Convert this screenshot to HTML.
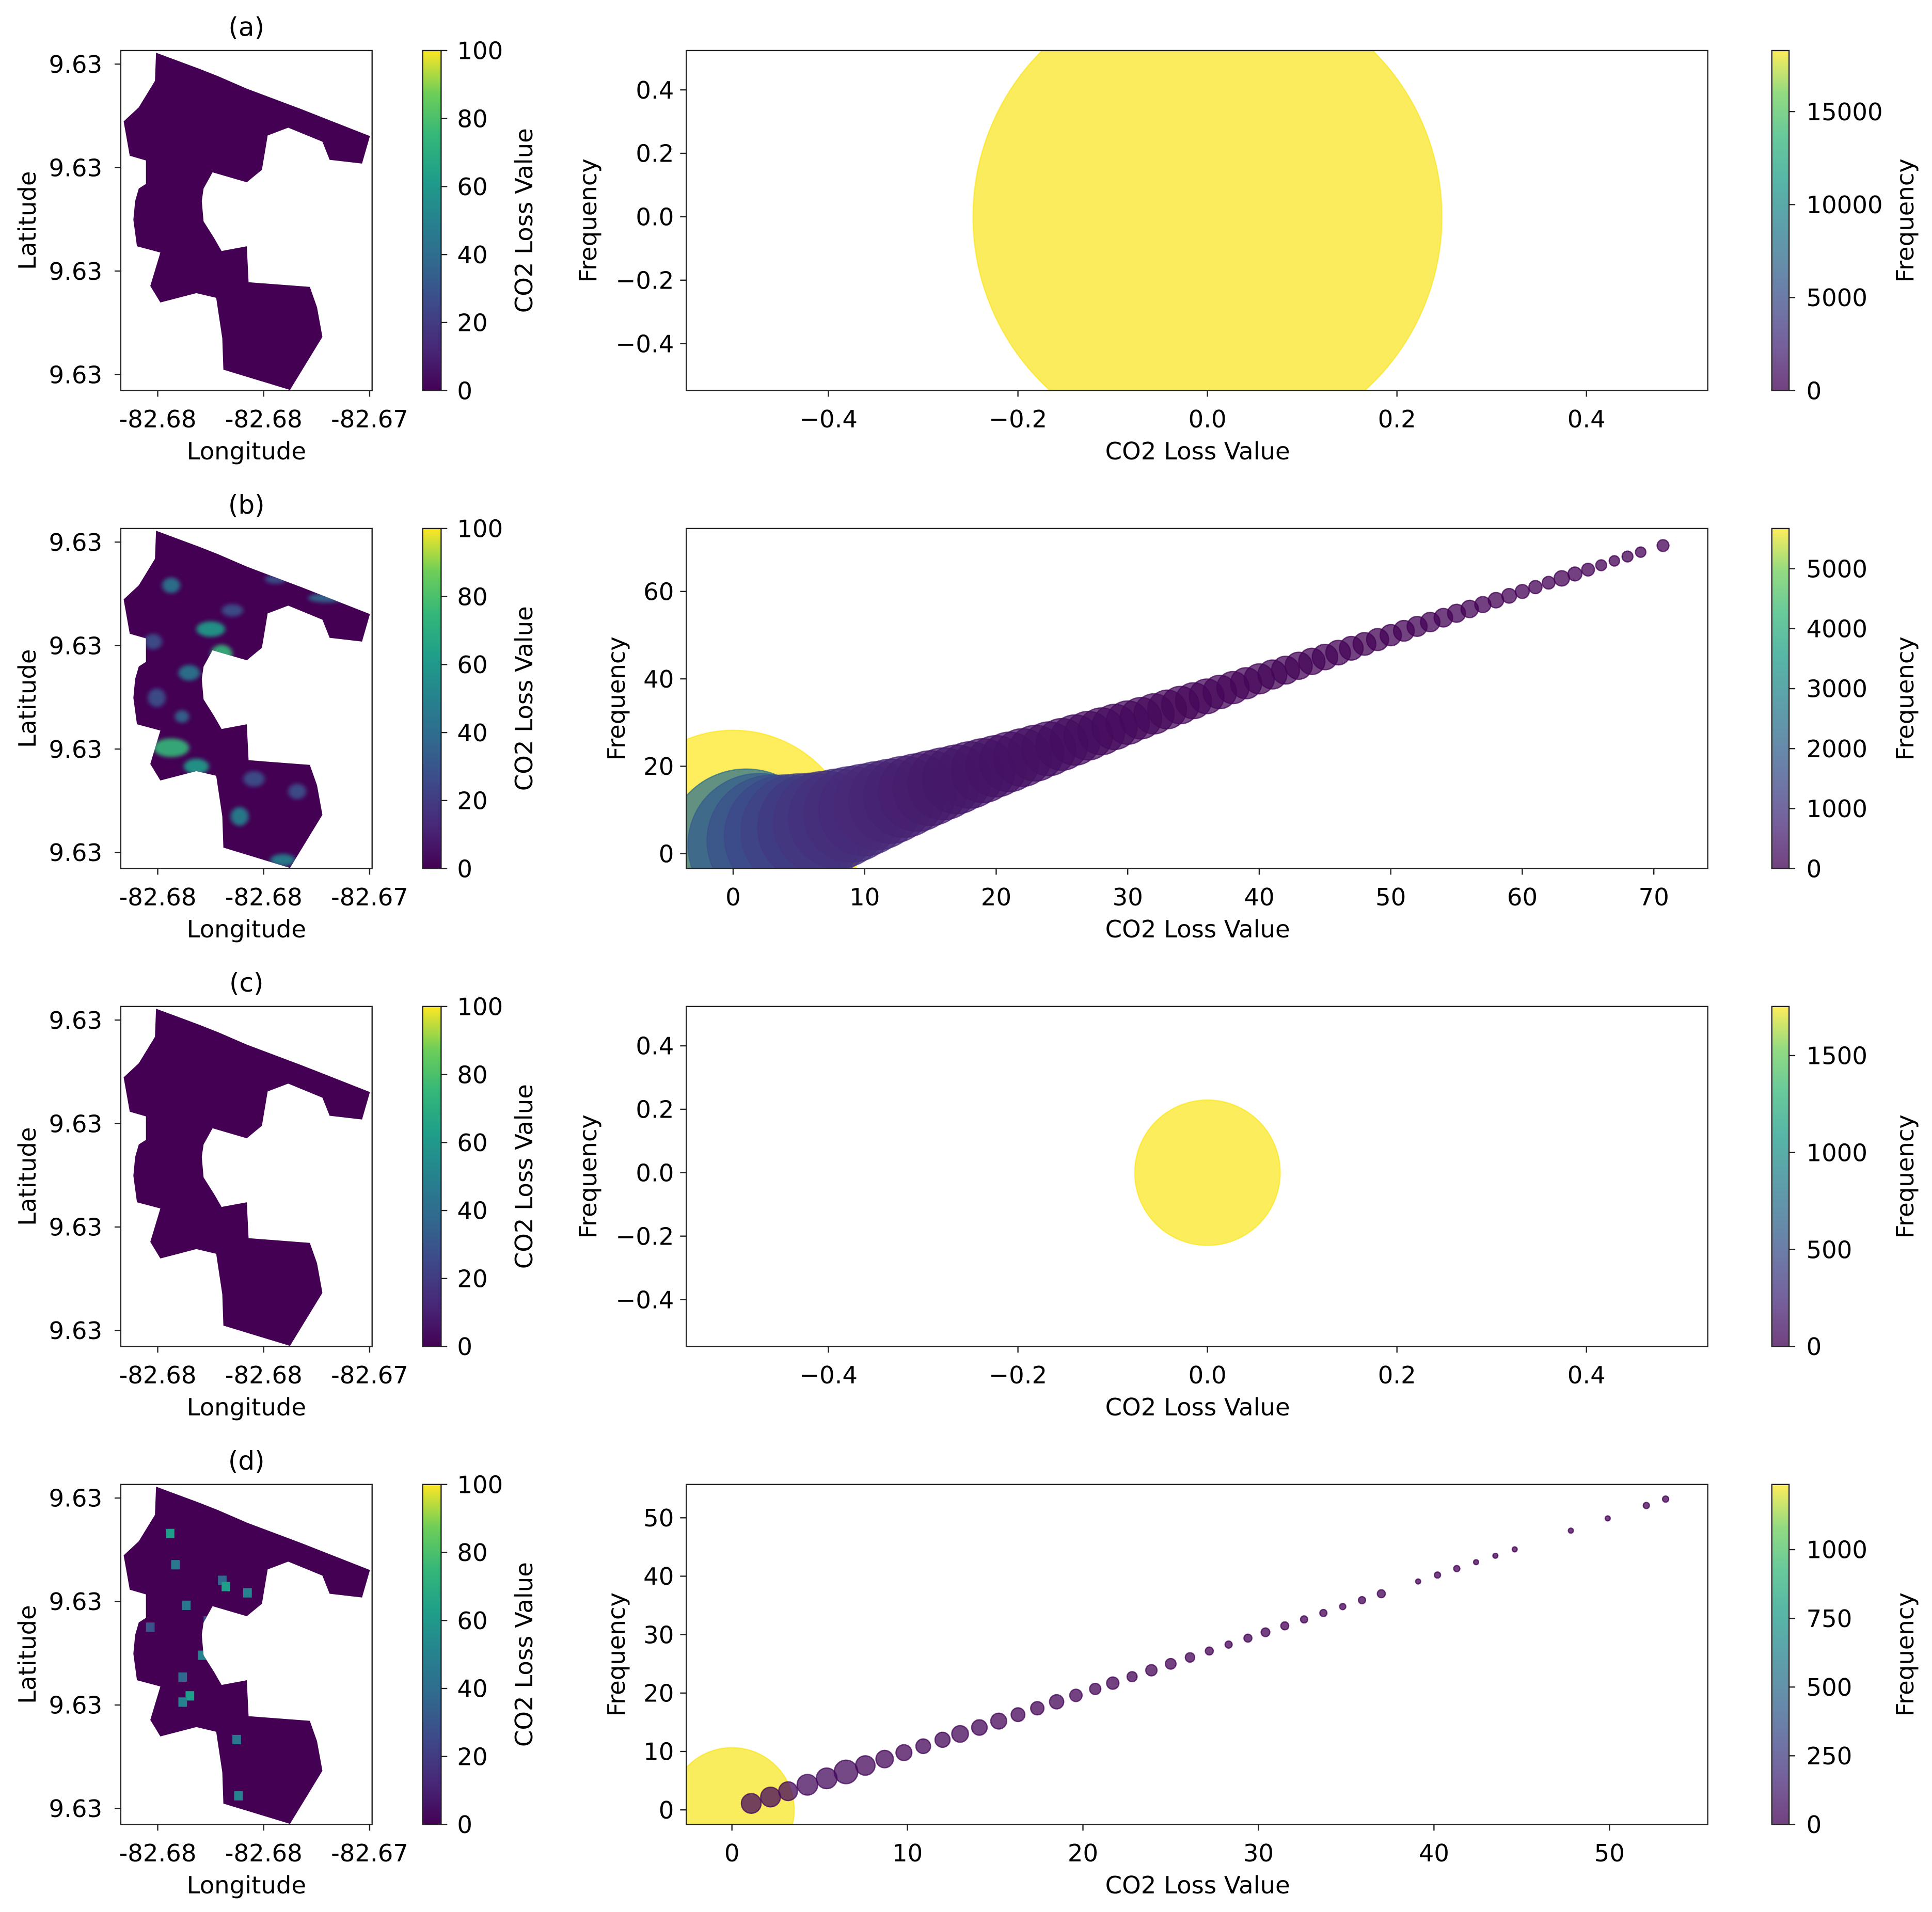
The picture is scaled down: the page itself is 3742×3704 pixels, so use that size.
<!DOCTYPE html>
<html><head><meta charset="utf-8">
<style>
html,body{margin:0;padding:0;background:#fff;}
svg{display:block;font-family:"DejaVu Sans","Liberation Sans",sans-serif;}
</style></head>
<body>
<svg id="fig" width="3742" height="3704" viewBox="0 0 1568 1552" xmlns="http://www.w3.org/2000/svg">
<defs>
<linearGradient id="vir" x1="0" y1="1" x2="0" y2="0">
<stop offset="0" stop-color="#440154"/><stop offset="0.125" stop-color="#482878"/><stop offset="0.25" stop-color="#3e4989"/><stop offset="0.375" stop-color="#31688e"/><stop offset="0.5" stop-color="#26828e"/><stop offset="0.625" stop-color="#1f9e89"/><stop offset="0.75" stop-color="#35b779"/><stop offset="0.875" stop-color="#6ece58"/><stop offset="1" stop-color="#fde725"/>
</linearGradient>
<filter id="blur" x="-50%" y="-50%" width="200%" height="200%"><feGaussianBlur stdDeviation="6"/></filter>
</defs>
</svg>
<script>
// ---- chart data ----
const rowTitles = ["(a)", "(b)", "(c)", "(d)"];
const mapLatTicks = ["9.63", "9.63", "9.63", "9.63"];
const mapLonTicks = ["-82.68", "-82.68", "-82.67"];
const mapCbarTicks = [0, 20, 40, 60, 80, 100];
// (a)
const aX = [0.0];
const aY = [0.0];
const aFreq = [18200];
const aXTicks = [-0.4, -0.2, 0.0, 0.2, 0.4];
const aYTicks = [-0.4, -0.2, 0.0, 0.2, 0.4];
const aCbarTicks = [0, 5000, 10000, 15000];
// (b)
const bX = [0,1,2,3,4,5,6,7,8,9,10,11,12,13,14,15,16,17,18,19,20,21,22,23,24,25,26,27,28,29,30,31,32,33,34,35,36,37,38,39,40,41,42,43,44,45,46,47,48,49,50,51,52,53,54,55,56,57,58,59,60,61,62,63,64,65,66,67,68,69,70.7];
const bY = [0,1,2,3,4,5,6,7,8,9,10,11,12,13,14,15,16,17,18,19,20,21,22,23,24,25,26,27,28,29,30,31,32,33,34,35,36,37,38,39,40,41,42,43,44,45,46,47,48,49,50,51,52,53,54,55,56,57,58,59,60,61,62,63,64,65,66,67,68,69,70.5];
const bFreq = [5670,2400,1900,1600,1400,1250,1100,1000,920,850,780,720,660,610,560,520,480,440,410,380,350,330,310,290,270,250,235,220,205,190,175,160,150,140,130,120,112,104,96,90,84,78,72,68,64,60,56,52,48,45,42,40,37,35,32,30,28,24,22,20,18,16,15,22,18,15,11,10,11,10,13];
const bXTicks = [0,10,20,30,40,50,60,70];
const bYTicks = [0,20,40,60];
const bCbarTicks = [0,1000,2000,3000,4000,5000];
// (c)
const cX = [0.0];
const cY = [0.0];
const cFreq = [1750];
const cXTicks = [-0.4, -0.2, 0.0, 0.2, 0.4];
const cYTicks = [-0.4, -0.2, 0.0, 0.2, 0.4];
const cCbarTicks = [0, 500, 1000, 1500];
// (d)
const dX = [0,1.1,2.2,3.2,4.3,5.4,6.5,7.6,8.7,9.8,10.9,12.0,13.0,14.1,15.2,16.3,17.4,18.5,19.6,20.7,21.7,22.8,23.9,25.0,26.1,27.2,28.3,29.4,30.4,31.5,32.6,33.7,34.8,35.9,37.0,39.1,40.2,41.3,42.4,43.5,44.6,47.8,49.9,52.1,53.2];
const dY = [0,1.1,2.2,3.2,4.3,5.4,6.5,7.6,8.7,9.8,10.9,12.0,13.0,14.1,15.2,16.3,17.4,18.5,19.6,20.7,21.7,22.8,23.9,25.0,26.1,27.2,28.3,29.4,30.4,31.5,32.6,33.7,34.8,35.9,37.0,39.1,40.2,41.3,42.4,43.5,44.6,47.8,49.9,52.1,53.2];
const dFreq = [1230,31,31,28,34,34,44,30,24,20,17,18,22,19,20,15,14,16,12,10,12,8,10,9,7,5,4,5,6,5,4,4,3,4,5,2,3,3,2,2,2,2,2,3,3];
const dXTicks = [0,10,20,30,40,50];
const dYTicks = [0,10,20,30,40,50];
const dCbarTicks = [0,250,500,750,1000];

// ---- helpers ----
const NS = "http://www.w3.org/2000/svg";
const fig = document.getElementById('fig');
const TICK_FS = 19.5, LAB_FS = 19.5, TITLE_FS = 21;
function mk(tag, attrs, parent, text){
  const e = document.createElementNS(NS, tag);
  for (const k in attrs) e.setAttribute(k, attrs[k]);
  if (text !== undefined) e.textContent = text;
  (parent || fig).appendChild(e);
  return e;
}
const VS = [[0,[68,1,84]],[0.125,[72,40,120]],[0.25,[62,73,137]],[0.375,[49,104,142]],[0.5,[38,130,142]],[0.625,[31,158,137]],[0.75,[53,183,121]],[0.875,[110,206,88]],[1,[253,231,37]]];
function viridis(t){
  t = Math.max(0, Math.min(1, t));
  for (let i=1;i<VS.length;i++){
    if (t <= VS[i][0]){
      const a=VS[i-1], b=VS[i], f=(t-a[0])/(b[0]-a[0]);
      const c=a[1].map((v,j)=>Math.round(v+(b[1][j]-v)*f));
      return `rgb(${c[0]},${c[1]},${c[2]})`;
    }
  }
  return 'rgb(253,231,37)';
}

const POLY = "M428,165 L545,215 L600,240 L680,280 L830,345 L1022,432 L1000,520 L910,508 L890,450 L795,405 L738,430 L722,540 L680,580 L585,548 L560,600 L555,640 L560,705 L590,760 L610,800 L680,785 L685,900 L855,915 L875,980 L890,1075 L800,1245 L615,1180 L612,1080 L595,950 L540,935 L440,965 L412,912 L440,805 L375,785 L365,700 L370,640 L380,600 L400,585 L400,510 L355,495 L338,385 L380,340 L425,255 Z";

const ROW_OFF = [0, 388, 776, 1164];

function drawMap(r){
  const off = ROW_OFF[r];
  const g = mk('g', {}, fig);
  
  
  const L=98, T=41+off, W=204, H=276;
  const t = mk('text', {x:200, y:29+off, 'font-size':TITLE_FS, 'text-anchor':'middle'}, g, rowTitles[r]);
  
  
  const s = mk('svg', {x:L, y:T, width:W, height:H, viewBox:"330 158 698 1089", preserveAspectRatio:"none"}, g);
  
  
  const cid = 'clip'+r;
  const cp = mk('clipPath', {id:cid}, s);
  mk('path', {d:POLY}, cp);
  const sh = mk('path', {d:POLY, fill:'#440154'}, s);
  
  
  if (r===1){
    const hg = mk('g', {'clip-path':`url(#${cid})`, filter:'url(#blur)'}, s);
    const spots = [[470,340,25,25,'#2a788e'],[580,480,40,25,'#1f9e89'],[610,560,30,30,'#35b779'],[520,620,30,25,'#2a788e'],[470,860,50,30,'#35b779'],[540,920,35,25,'#1f9e89'],[660,1080,25,30,'#26828e'],[780,1220,35,20,'#26828e'],[430,700,25,30,'#3b528b'],[500,760,20,20,'#31688e'],[700,960,30,25,'#3b528b'],[900,380,50,15,'#31688e'],[420,520,25,25,'#3b528b'],[640,420,30,20,'#3b528b'],[760,320,30,15,'#3b528b'],[820,1000,25,25,'#3b528b']];
    spots.forEach(p=>{ const e=mk('ellipse',{cx:p[0],cy:p[1],rx:p[2],ry:p[3],fill:p[4],opacity:0.9},hg);   });
  }
  if (r===3){
    const hg = mk('g', {'clip-path':`url(#${cid})`}, s);
    const cells = [[455,300,'#1f9e89'],[470,400,'#2a788e'],[600,450,'#31688e'],[610,470,'#1f9e89'],[670,490,'#26828e'],[500,530,'#2a788e'],[545,690,'#26828e'],[490,760,'#31688e'],[510,820,'#1f9e89'],[490,840,'#26828e'],[640,960,'#2a788e'],[645,1140,'#26828e'],[820,280,'#3b528b'],[840,300,'#3b528b'],[680,200,'#3b528b'],[720,1290,'#3b528b'],[400,600,'#3b528b'],[560,580,'#3b528b']];
    cells.forEach(p=>{ const e=mk('rect',{x:p[0],y:p[1],width:24,height:30,fill:p[2]},hg);   });
  }
  mk('rect', {x:L, y:T, width:W, height:H, fill:'none', stroke:'#222', 'stroke-width':1}, g);
  const latY=[52,136,220,304];
  latY.forEach((y,i)=>{
    mk('line',{x1:L-5,y1:y+off,x2:L,y2:y+off,stroke:'#222','stroke-width':1},g);
    const e=mk('text',{x:L-15,y:y+off+7,'font-size':TICK_FS,'text-anchor':'end'},g,mapLatTicks[i]);
     
  });
  const lonX=[128,214,300];
  lonX.forEach((x,i)=>{
    mk('line',{x1:x,y1:T+H,x2:x,y2:T+H+5,stroke:'#222','stroke-width':1},g);
    const e=mk('text',{x:x,y:T+H+30,'font-size':TICK_FS,'text-anchor':'middle'},g,mapLonTicks[i]);
     
  });
  const xl=mk('text',{x:200,y:T+H+56,'font-size':LAB_FS,'text-anchor':'middle'},g,'Longitude');
   
  const yl=mk('text',{x:0,y:0,'font-size':LAB_FS,'text-anchor':'middle',transform:`translate(29,${T+H/2}) rotate(-90)`},g,'Latitude');
   
  const cb=mk('rect',{x:343,y:T,width:15,height:H,fill:'url(#vir)',stroke:'#222','stroke-width':1},g);
   
  mapCbarTicks.forEach(v=>{
    const y=T+H-v/100*H;
    mk('line',{x1:358,y1:y,x2:363,y2:y,stroke:'#222','stroke-width':1},g);
    const e=mk('text',{x:371,y:y+7,'font-size':TICK_FS},g,String(v));
     
  });
  const cl=mk('text',{x:0,y:0,'font-size':LAB_FS,'text-anchor':'middle',transform:`translate(432,${T+H/2}) rotate(-90)`},g,'CO2 Loss Value');
   
}

function drawScatter(r, xs, ys, fr, xDom, yDom, xTicks, yTicks, cTicks, cMax, k, decimals, ylabX){
  const off = ROW_OFF[r];
  const L=557, R=1386, T=41+off, B=317+off;
  const g = mk('g', {}, fig);
  
  
  const sx = v => L + (v - xDom[0])/(xDom[1]-xDom[0])*(R-L);
  const sy = v => B - (v - yDom[0])/(yDom[1]-yDom[0])*(B-T);
  const cid='sclip'+r;
  const cp=mk('clipPath',{id:cid},g);
  mk('rect',{x:L,y:T,width:R-L,height:B-T},cp);
  const pg=mk('g',{'clip-path':`url(#${cid})`},g);
  for (let i=0;i<xs.length;i++){
    const rad = k*Math.sqrt(fr[i]);
    const col = viridis(fr[i]/cMax);
    const c = mk('circle',{cx:sx(xs[i]),cy:sy(ys[i]),r:rad,fill:col,'fill-opacity':0.75,stroke:col,'stroke-opacity':0.75,'stroke-width':1},pg);
    
    
  }
  mk('rect',{x:L,y:T,width:R-L,height:B-T,fill:'none',stroke:'#222','stroke-width':1},g);
  xTicks.forEach(v=>{
    const x=sx(v);
    mk('line',{x1:x,y1:B,x2:x,y2:B+5,stroke:'#222','stroke-width':1},g);
    const lab = decimals ? (v<0?'\u2212':'')+Math.abs(v).toFixed(1) : String(v);
    const e=mk('text',{x:x,y:B+30,'font-size':TICK_FS,'text-anchor':'middle'},g,lab);
     
  });
  yTicks.forEach(v=>{
    const y=sy(v);
    mk('line',{x1:L-5,y1:y,x2:L,y2:y,stroke:'#222','stroke-width':1},g);
    const lab = decimals ? (v<0?'\u2212':'')+Math.abs(v).toFixed(1) : String(v);
    const e=mk('text',{x:L-10,y:y+7,'font-size':TICK_FS,'text-anchor':'end'},g,lab);
     
  });
  const xl=mk('text',{x:972,y:B+56,'font-size':LAB_FS,'text-anchor':'middle'},g,'CO2 Loss Value');
   
  const yl=mk('text',{x:0,y:0,'font-size':LAB_FS,'text-anchor':'middle',transform:`translate(${ylabX},${(T+B)/2}) rotate(-90)`},g,'Frequency');
   
  const cb=mk('rect',{x:1438,y:T,width:14,height:B-T,fill:'url(#vir)','fill-opacity':0.75,stroke:'#222','stroke-width':1},g);
   
  cTicks.forEach(v=>{
    const y=B-v/cMax*(B-T);
    mk('line',{x1:1452,y1:y,x2:1457,y2:y,stroke:'#222','stroke-width':1},g);
    const e=mk('text',{x:1466,y:y+7,'font-size':TICK_FS},g,String(v));
     
  });
  const cl=mk('text',{x:0,y:0,'font-size':LAB_FS,'text-anchor':'middle',transform:`translate(1553,${(T+B)/2}) rotate(-90)`},g,'Frequency');
   
}

for (let r=0;r<4;r++) drawMap(r);
drawScatter(0, aX, aY, aFreq, [-0.55,0.528], [-0.548,0.524], aXTicks, aYTicks, aCbarTicks, 18280, 1.41, true, 484);
drawScatter(1, bX, bY, bFreq, [-3.56,74.1], [-3.4,74.4], bXTicks, bYTicks, bCbarTicks, 5670, 1.33, false, 507);
drawScatter(2, cX, cY, cFreq, [-0.55,0.528], [-0.548,0.524], cXTicks, cYTicks, cCbarTicks, 1753, 1.41, true, 484);
drawScatter(3, dX, dY, dFreq, [-2.6,55.6], [-2.5,55.7], dXTicks, dYTicks, dCbarTicks, 1237, 1.44, false, 507);
</script>
</body></html>
